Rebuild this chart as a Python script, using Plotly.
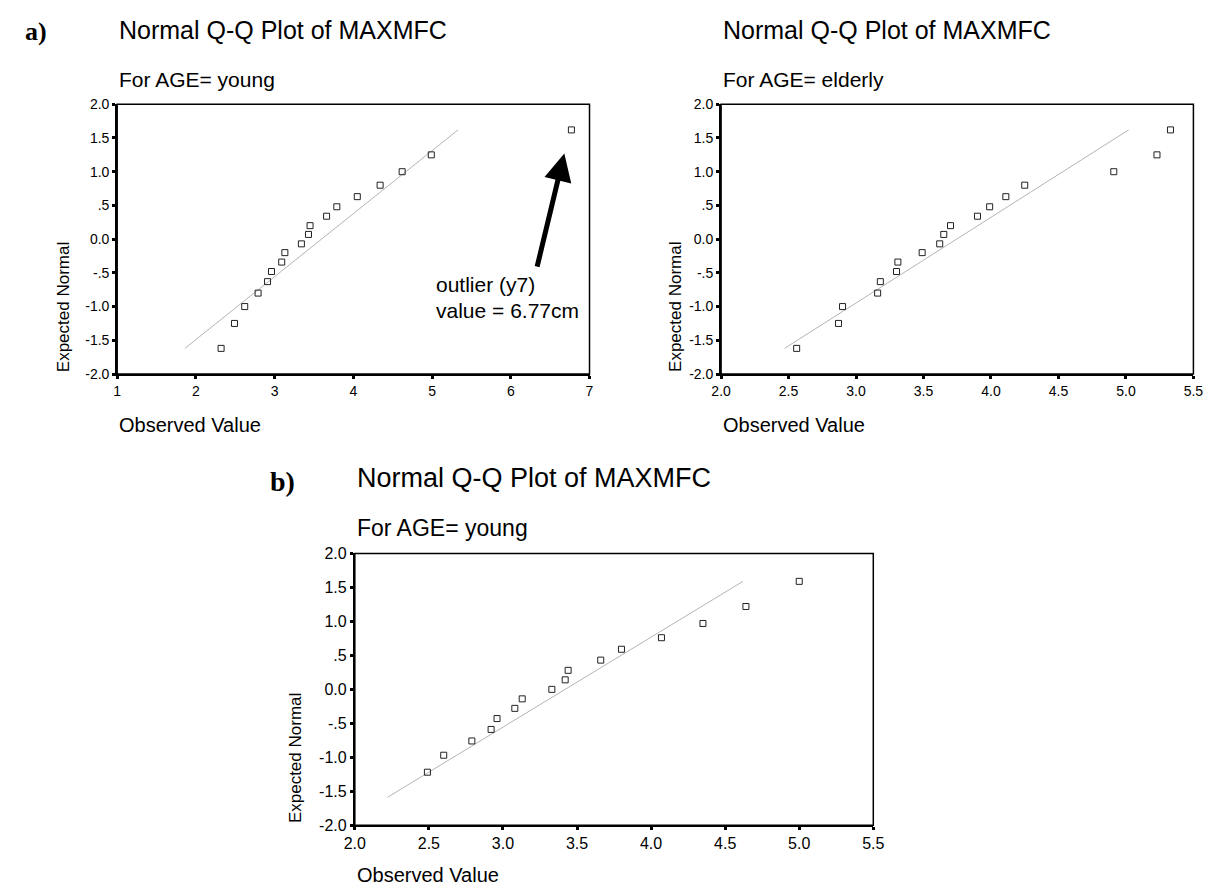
import plotly.graph_objects as go

# The page body has an 8px default margin; the figure is sized to fill the rest.
PAGE_OFFSET = 8
W, H = 1227 - PAGE_OFFSET, 895 - PAGE_OFFSET

# ---------------- data ----------------
young_observed = [2.32, 2.49, 2.62, 2.79, 2.91, 2.96, 3.09, 3.13, 3.34, 3.43,
                  3.45, 3.66, 3.79, 4.05, 4.34, 4.62, 4.99, 6.77]
young_expected = [-1.62, -1.25, -1.00, -0.80, -0.63, -0.48, -0.34, -0.20, -0.07, 0.07,
                  0.20, 0.34, 0.48, 0.63, 0.80, 1.00, 1.25, 1.62]

elderly_observed = [2.56, 2.87, 2.90, 3.16, 3.18, 3.30, 3.31, 3.49, 3.62, 3.65,
                    3.70, 3.90, 3.99, 4.11, 4.25, 4.91, 5.23, 5.33]
elderly_expected = [-1.62, -1.25, -1.00, -0.80, -0.63, -0.48, -0.34, -0.20, -0.07, 0.07,
                    0.20, 0.34, 0.48, 0.63, 0.80, 1.00, 1.25, 1.62]

young_b_observed = [2.49, 2.60, 2.79, 2.92, 2.96, 3.08, 3.13, 3.33, 3.42, 3.44,
                    3.66, 3.80, 4.07, 4.35, 4.64, 5.00]
young_b_expected = [-1.22, -0.97, -0.76, -0.59, -0.43, -0.28, -0.14, 0.00, 0.14, 0.28,
                    0.43, 0.59, 0.76, 0.97, 1.22, 1.59]

# reference (expected-normal) lines: end points
young_line_x = [1.86, 5.33]
young_line_y = [-1.62, 1.62]
elderly_line_x = [2.47, 5.02]
elderly_line_y = [-1.62, 1.62]
young_b_line_x = [2.22, 4.62]
young_b_line_y = [-1.59, 1.59]

y_tickvals = [-2.0, -1.5, -1.0, -0.5, 0.0, 0.5, 1.0, 1.5, 2.0]
y_ticktext = ["-2.0", "-1.5", "-1.0", "-.5", "0.0", ".5", "1.0", "1.5", "2.0"]
x1_tickvals = [1, 2, 3, 4, 5, 6, 7]
x1_ticktext = ["1", "2", "3", "4", "5", "6", "7"]
x2_tickvals = [2.0, 2.5, 3.0, 3.5, 4.0, 4.5, 5.0, 5.5]
x2_ticktext = ["2.0", "2.5", "3.0", "3.5", "4.0", "4.5", "5.0", "5.5"]

outlier_lines = ["outlier (y7)", "value = 6.77cm"]
title_text = "Normal Q-Q Plot of MAXMFC"

# ---------------- layout helpers (page pixels -> paper) ----------------
def fx(px):
    return (px - PAGE_OFFSET) / W

def fy(py):
    return 1 - (py - PAGE_OFFSET) / H

SANS = "Liberation Sans, Arial, sans-serif"
SERIF = "Liberation Serif, Times New Roman, serif"

# plot rectangles in page pixels (left, right, top, bottom)
P1 = (108, 589, 98, 373)
P2 = (723, 1204, 98, 373)
P3 = (350, 878, 556, 833)


def xaxis(p, rng, tv, tt, anchor, fs):
    return dict(domain=[fx(p[0]), fx(p[1])], range=rng, tickvals=tv, ticktext=tt,
                ticks="outside", ticklen=3, tickwidth=3, tickcolor="black",
                showline=True, linecolor="black", linewidth=2, showgrid=False,
                zeroline=False, anchor=anchor, fixedrange=True,
                tickfont=dict(family=SANS, size=fs, color="black"))


def yaxis(p, anchor, fs):
    return dict(domain=[fy(p[3]), fy(p[2])], range=[-2, 2], tickvals=y_tickvals,
                ticktext=y_ticktext, ticks="outside", ticklen=3, tickwidth=3,
                tickcolor="black", showline=True, linecolor="black", linewidth=2,
                showgrid=False, zeroline=False, anchor=anchor, fixedrange=True,
                tickfont=dict(family=SANS, size=fs, color="black"))


fig = go.Figure()

marker = dict(symbol="square-open", size=6, color="#222222", line=dict(width=1, color="#222222"))
line_style = dict(color="#b4b4b4", width=1)

for (lx, ly, ox, oy, xa, ya) in [
    (young_line_x, young_line_y, young_observed, young_expected, "x", "y"),
    (elderly_line_x, elderly_line_y, elderly_observed, elderly_expected, "x2", "y2"),
    (young_b_line_x, young_b_line_y, young_b_observed, young_b_expected, "x3", "y3"),
]:
    fig.add_trace(go.Scatter(x=lx, y=ly, mode="lines", line=line_style,
                             xaxis=xa, yaxis=ya, showlegend=False, hoverinfo="skip"))
    fig.add_trace(go.Scatter(x=ox, y=oy, mode="markers", marker=marker,
                             xaxis=xa, yaxis=ya, showlegend=False))

fig.update_layout(
    width=W, height=H,
    margin=dict(l=0, r=0, t=0, b=0),
    paper_bgcolor="white", plot_bgcolor="white",
    xaxis=xaxis(P1, [1, 7], x1_tickvals, x1_ticktext, "y", 14),
    yaxis=yaxis(P1, "x", 14),
    xaxis2=xaxis(P2, [2.0, 5.5], x2_tickvals, x2_ticktext, "y2", 14),
    yaxis2=yaxis(P2, "x2", 14),
    xaxis3=xaxis(P3, [2.0, 5.5], x2_tickvals, x2_ticktext, "y3", 16),
    yaxis3=yaxis(P3, "x3", 16),
)

# frames
for xr, yr in [("x", "y"), ("x2", "y2"), ("x3", "y3")]:
    fig.add_shape(type="rect", xref=f"{xr} domain", yref=f"{yr} domain",
                  x0=0, x1=1, y0=0, y1=1, line=dict(color="black", width=1.5))

annotations = []


def txt(text, px, py, size, family=SANS, xanchor="left", yanchor="middle", angle=0, bold=False):
    if bold:
        text = f"<b>{text}</b>"
    annotations.append(dict(text=text, x=fx(px), y=fy(py), xref="paper", yref="paper",
                            xanchor=xanchor, yanchor=yanchor, showarrow=False,
                            textangle=angle,
                            font=dict(family=family, size=size, color="black")))


# panel labels
txt("a)", 12, 24, 26, family=SERIF, bold=True)
txt("b)", 262, 483, 28, family=SERIF, bold=True)

# titles and subtitles
txt(title_text, P1[0], 22, 25)
txt("For AGE= young", P1[0], 73, 21)
txt(title_text, P2[0], 22, 25)
txt("For AGE= elderly", P2[0], 73, 21)
txt(title_text, P3[0], 479, 27)
txt("For AGE= young", P3[0], 530, 23)

# axis titles
txt("Observed Value", P1[0], 425, 20)
txt("Observed Value", P2[0], 425, 20)
txt("Observed Value", P3[0], 884, 20)
txt("Expected Normal", 53, P1[3], 17, xanchor="center", yanchor="bottom", angle=-90)
txt("Expected Normal", 676, P2[3], 17, xanchor="center", yanchor="bottom", angle=-90)
txt("Expected Normal", 289, P3[3], 17, xanchor="center", yanchor="bottom", angle=-90)

# outlier note (two lines)
txt(outlier_lines[0], 431, 282, 21)
txt(outlier_lines[1], 431, 308, 21)

# arrow pointing to the outlier
annotations.append(dict(text="", x=6.68, y=1.27, xref="x", yref="y",
                        ax=6.33, ay=-0.43, axref="x", ayref="y",
                        showarrow=True, arrowhead=2, arrowsize=1.1, arrowwidth=5,
                        arrowcolor="black", standoff=0))

fig.update_layout(annotations=annotations)

fig.write_html("out.html")
